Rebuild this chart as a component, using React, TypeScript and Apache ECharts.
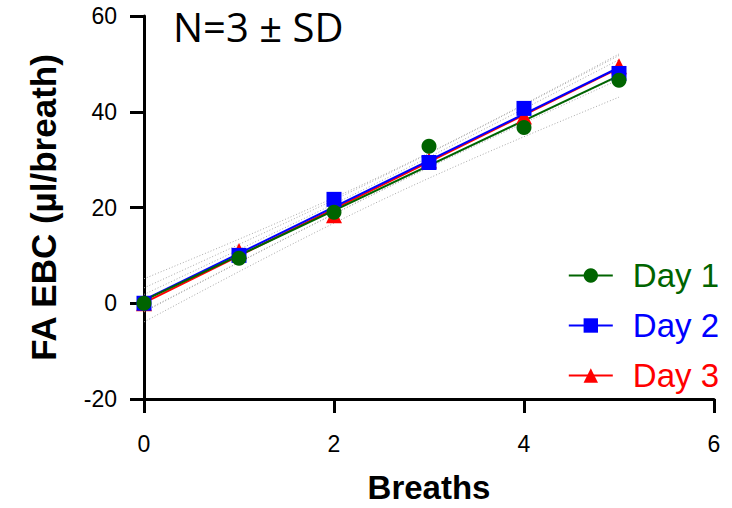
import React, { useEffect, useRef } from "react";
import * as echarts from "echarts";

const breaths = [0, 1, 2, 3, 4, 5];
const day1 = [0, 9.4, 19.0, 32.8, 36.7, 46.6];
const day2 = [0, 10.0, 21.7, 29.4, 40.7, 48.0];
const day3 = [0, 10.9, 18.4, 29.8, 39.0, 49.5];
const yTicks = { min: -20, max: 60, interval: 20 };
const xTicks = { min: 0, max: 6, interval: 2 };
const seriesNames = ["Day 1", "Day 2", "Day 3"];
const seriesColors = ["#006400", "#0000ff", "#ff0000"];
const seriesSymbols = ["circle", "rect", "triangle"];
const T_975_DF4 = 2.776;

function regression(xs: number[], ys: number[]) {
  const n = xs.length;
  const mx = xs.reduce((a, b) => a + b, 0) / n;
  const my = ys.reduce((a, b) => a + b, 0) / n;
  let sxx = 0, sxy = 0;
  xs.forEach((x, i) => { sxx += (x - mx) ** 2; sxy += (x - mx) * (ys[i] - my); });
  const slope = sxy / sxx;
  const intercept = my - slope * mx;
  let sse = 0;
  xs.forEach((x, i) => { sse += (ys[i] - (intercept + slope * x)) ** 2; });
  const s = Math.sqrt(sse / (n - 2));
  const xmin = Math.min(...xs), xmax = Math.max(...xs);
  const line = [[xmin, intercept + slope * xmin], [xmax, intercept + slope * xmax]];
  const upper: number[][] = [];
  const lower: number[][] = [];
  const steps = 20;
  for (let k = 0; k <= steps; k++) {
    const x = xmin + ((xmax - xmin) * k) / steps;
    const yhat = intercept + slope * x;
    const h = T_975_DF4 * s * Math.sqrt(1 / n + (x - mx) ** 2 / sxx);
    upper.push([x, yhat + h]);
    lower.push([x, yhat - h]);
  }
  return { line, upper, lower };
}

export default function App() {
  const ref = useRef<HTMLDivElement>(null);
  useEffect(() => {
    if (!ref.current) return;
    const chart = echarts.init(ref.current, undefined, { renderer: "svg" });
    const all = [day1, day2, day3];
    const fits = all.map((d) => regression(breaths, d));
    const series: any[] = [];
    fits.forEach((f, i) => {
      [f.upper, f.lower].forEach((band) => {
        series.push({
          type: "line", name: "band" + i, data: band, symbol: "none", silent: true,
          lineStyle: { color: "#a8a8a8", width: 1, type: [1, 2] }, z: 1,
        });
      });
    });
    [2, 1, 0].forEach((i) => {
      series.push({
        type: "line", name: "fit" + i, data: fits[i].line, symbol: "none", silent: true,
        lineStyle: { color: seriesColors[i], width: 2 }, z: 2,
      });
    });
    [2, 1, 0].forEach((i) => {
      series.push({
        type: "line", name: seriesNames[i],
        data: breaths.map((x, k) => [x, all[i][k]]),
        symbol: seriesSymbols[i], symbolSize: i === 2 ? 16 : 15, showSymbol: true,
        itemStyle: { color: seriesColors[i] },
        lineStyle: { color: seriesColors[i], width: 2, opacity: 0 }, z: 3,
      });
    });
    chart.setOption({
      animation: false,
      grid: { left: 144, right: 18, top: 16, bottom: 109, outerBoundsMode: "none", containLabel: false },
      legend: {
        orient: "vertical", right: 8, top: 254, itemWidth: 44, itemHeight: 18, itemGap: 17,
        data: seriesNames.map((n, i) => ({ name: n, textStyle: { color: seriesColors[i] } })),
        textStyle: { fontSize: 33, fontFamily: "Liberation Sans", padding: [0, 0, 0, 15] },
        lineStyle: { width: 2, opacity: 1 },
        selectedMode: false,
      },
      xAxis: {
        type: "value", ...xTicks,
        name: "Breaths", nameLocation: "middle", nameGap: 72,
        nameTextStyle: { fontSize: 33, fontWeight: "bold", color: "#000", fontFamily: "Liberation Sans" },
        axisLine: { onZero: false, lineStyle: { color: "#000", width: 3 } },
        axisTick: { length: 14, lineStyle: { width: 3, color: "#000" } },
        axisLabel: { fontSize: 23, color: "#000", margin: 33, fontFamily: "Liberation Sans" },
        splitLine: { show: false },
      },
      yAxis: {
        type: "value", ...yTicks,
        name: "FA EBC (µl/breath)", nameLocation: "middle", nameGap: 83,
        nameTextStyle: { fontSize: 35, fontWeight: "bold", color: "#000", fontFamily: "Liberation Sans" },
        axisLine: { show: true, lineStyle: { color: "#000", width: 3 } },
        axisTick: { show: true, length: 14, lineStyle: { width: 3, color: "#000" } },
        axisLabel: { fontSize: 23, color: "#000", margin: 27, fontFamily: "Liberation Sans" },
        splitLine: { show: false },
      },
      graphic: [
        {
          type: "text", left: 173, top: 6,
          style: { text: "N=3 ± SD", fontSize: 40, fill: "#000", fontFamily: "Open Sans" },
        },
      ],
      series,
    });
    return () => chart.dispose();
  }, []);
  return <div ref={ref} style={{ width: 732, height: 508, position: "absolute", left: 0, top: 0 }} />;
}
